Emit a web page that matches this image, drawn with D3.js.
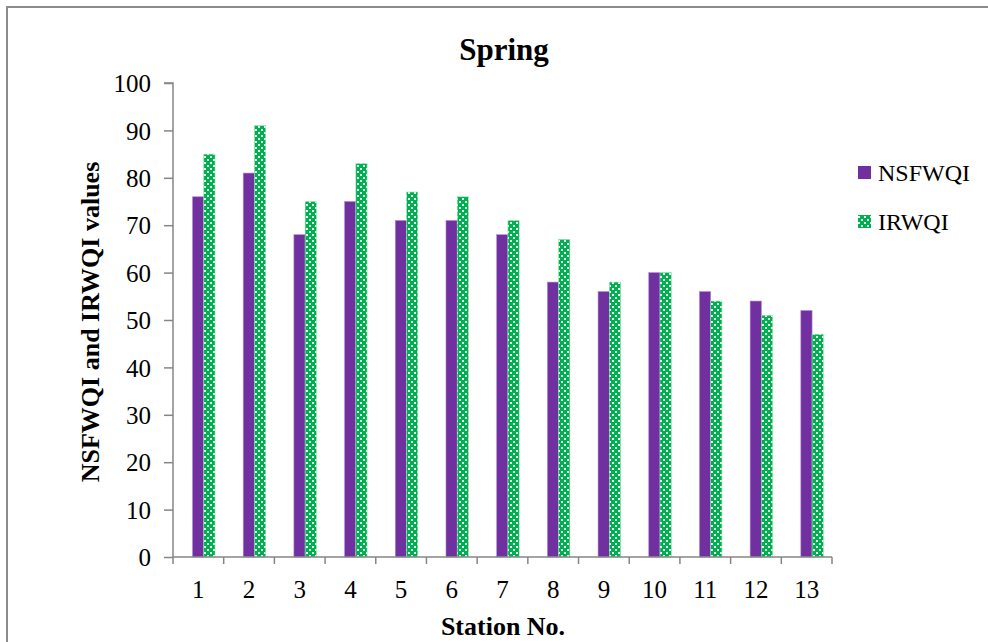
<!DOCTYPE html>
<html><head><meta charset="utf-8">
<script src="https://cdn.jsdelivr.net/npm/d3@7"></script>
<style>body{margin:0;background:#fff}svg{display:block}text{font-family:"Liberation Serif","Times New Roman",serif;fill:#000}</style>
</head><body><svg id="c" width="988" height="642"></svg>
<script>
const stations = ["1","2","3","4","5","6","7","8","9","10","11","12","13"];
const nsfwqi = [76,81,68,75,71,71,68,58,56,60,56,54,52];
const irwqi  = [85,91,75,83,77,76,71,67,58,60,54,51,47];
const yTicks = [0,10,20,30,40,50,60,70,80,90,100];
const seriesNames = ["NSFWQI","IRWQI"];

const FONT = "Liberation Serif, Times New Roman, serif";
const svg = d3.select("#c");
const defs = svg.append("defs");
const pat = defs.append("pattern").attr("id","chk").attr("patternUnits","userSpaceOnUse")
  .attr("width",6).attr("height",6);
pat.append("rect").attr("width",6).attr("height",6).attr("fill","#00B050");
pat.append("rect").attr("x",0).attr("y",0).attr("width",2).attr("height",2).attr("fill","#e8f8ee");
pat.append("rect").attr("x",3).attr("y",3).attr("width",2).attr("height",2).attr("fill","#e8f8ee");

// outer frame
svg.append("rect").attr("x",7).attr("y",7).attr("width",1200).attr("height",1200)
  .attr("fill","none").attr("stroke","#8c8c8c").attr("stroke-width",2);

const L=173, R=832, T=83, B=557;
const x = d3.scaleBand().domain(stations).range([L,R]).padding(0);
const y = d3.scaleLinear().domain([0,100]).range([B,T]);
const bw = x.bandwidth();

// bars
const g = svg.append("g");
g.selectAll(".p").data(nsfwqi).join("rect")
  .attr("x",(d,i)=>x(stations[i])+bw*0.385).attr("width",bw*0.222)
  .attr("y",d=>y(d)).attr("height",d=>B-y(d))
  .attr("fill","#7030A0").attr("stroke","#b48ad0").attr("stroke-width",0.6);
g.selectAll(".q").data(irwqi).join("rect")
  .attr("x",(d,i)=>x(stations[i])+bw*0.607).attr("width",bw*0.222)
  .attr("y",d=>y(d)).attr("height",d=>B-y(d))
  .attr("fill","url(#chk)").attr("stroke","#9be0b4").attr("stroke-width",0.6);

// y axis
const ya = svg.append("g").attr("transform",`translate(${L},0)`)
  .call(d3.axisLeft(y).tickValues(yTicks).tickSize(9).tickPadding(13));
ya.attr("font-family",FONT).attr("font-size",25);
ya.select(".domain").attr("stroke","#868686").attr("stroke-width",1.5).attr("d",`M-9,${T}H0V${B}`);
ya.selectAll(".tick line").attr("stroke","#868686").attr("stroke-width",1.5);
ya.selectAll("text").attr("dy","0.35em");

// x axis
const xa = svg.append("g").attr("transform",`translate(0,${B})`)
  .call(d3.axisBottom(x).tickSize(0).tickPadding(23));
xa.attr("font-family",FONT).attr("font-size",25);
xa.select(".domain").attr("stroke","#868686").attr("stroke-width",1.5).attr("d",`M${L},0H${R}`);
const bounds = stations.map(s=>x(s)).concat([R]);
xa.selectAll(".bt").data(bounds).join("line").attr("x1",d=>d).attr("x2",d=>d)
  .attr("y1",0).attr("y2",7).attr("stroke","#868686").attr("stroke-width",1.5);

// titles
svg.append("text").attr("x",504).attr("y",60).attr("text-anchor","middle")
  .attr("font-size",31).attr("font-weight","bold").text("Spring");
svg.append("text").attr("x",503).attr("y",635).attr("text-anchor","middle")
  .attr("font-size",26).attr("font-weight","bold").text("Station No.");
svg.append("text").attr("transform","translate(99,322) rotate(-90)").attr("text-anchor","middle")
  .attr("font-size",26).attr("font-weight","bold").text("NSFWQI and IRWQI values");

// legend
const fills = ["#7030A0","url(#chk)"];
const lg = svg.append("g");
seriesNames.forEach((n,i)=>{
  const yy = 172 + i*49;
  lg.append("rect").attr("x",858).attr("y",yy-6).attr("width",13).attr("height",13).attr("fill",fills[i]);
  lg.append("text").attr("x",878).attr("y",yy+9).attr("font-size",24).text(n);
});
</script></body></html>
